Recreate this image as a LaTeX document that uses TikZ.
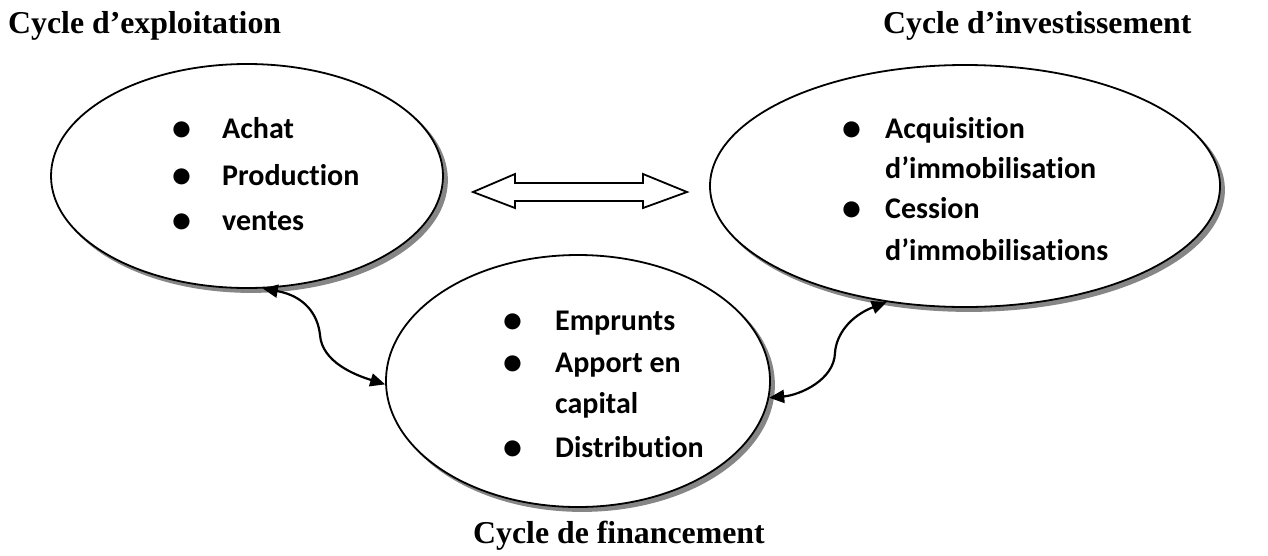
\documentclass[tikz,border=0pt]{standalone}
\usepackage{fontspec}
\setmainfont{Liberation Serif}
\newfontfamily\calib[Ligatures={NoCommon,NoRequired,NoContextual}]{Carlito}
\usetikzlibrary{shapes.geometric,shadows,arrows.meta}
\begin{document}
\begin{tikzpicture}[x=1pt,y=-1pt,
  cyc/.style={ellipse,draw=black,line width=1.8pt,fill=white,inner sep=0pt,
    copy shadow={shadow xshift=4pt,shadow yshift=-4pt,fill=gray!95,draw=gray!95}},
  title/.style={font=\fontsize{31.8}{37}\selectfont\bfseries,anchor=base west,inner sep=0pt},
  item/.style={font=\calib\fontsize{30}{36}\selectfont\bfseries,anchor=base west,inner sep=0pt},
  bul/.style={font=\calib\fontsize{38}{44}\selectfont\bfseries,anchor=base,inner sep=0pt},
  link/.style={line width=2.2pt,{Triangle[length=15pt,width=13pt]}-{Triangle[length=15pt,width=13pt]}}]
\useasboundingbox (0,0) rectangle (1268,555);
% ellipses
\node[cyc,minimum width=392pt,minimum height=224pt] (e1) at (247,176) {};
\node[cyc,minimum width=510pt,minimum height=242pt] (e2) at (965,186) {};
\node[cyc,minimum width=384pt,minimum height=252pt] (e3) at (578,381) {};
% titles
\node[title] (t1) at (8,33) {Cycle d’exploitation};
\node[title] (t2) at (883,33) {Cycle d’investissement};
\node[title] (t3) at (473,543) {Cycle de financement};
% items left
\node[bul] (b11) at (182,140) {•};
\node[item] (i11) at (222,138) {Achat};
\node[bul] (b12) at (182,187) {•};
\node[item] (i12) at (222,185) {Production};
\node[bul] (b13) at (182,232) {•};
\node[item] (i13) at (222,230) {ventes};
% items right
\node[bul] (b21) at (852,140) {•};
\node[item] (i21) at (885,138) {Acquisition};
\node[item] (i22) at (885,178) {d’immobilisation};
\node[bul] (b22) at (852,220) {•};
\node[item] (i23) at (885,218) {Cession};
\node[item] (i24) at (885,260) {d’immobilisations};
% items bottom
\node[bul] (b31) at (513,332) {•};
\node[item] (i31) at (555,330) {Emprunts};
\node[bul] (b32) at (513,374) {•};
\node[item] (i32) at (555,372) {Apport en};
\node[item] (i33) at (555,413) {capital};
\node[bul] (b33) at (513,459) {•};
\node[item] (i34) at (555,457) {Distribution};
% double arrow
\draw[line width=1.8pt,line join=miter] (473,192) -- (515,174) -- (515,183) -- (643,183) -- (643,174)
  -- (687,192) -- (643,208) -- (643,201) -- (515,201) -- (515,208) -- cycle;
% curved links
\draw[link] (e1.-82) .. controls (305,296) and (318,315) .. (320,335)
  .. controls (322,362) and (355,375) .. (e3.181);
\draw[link] (e2.-124) .. controls (850,316) and (836,335) .. (835,353)
  .. controls (834,380) and (800,395) .. (e3.-5);
\end{tikzpicture}
\end{document}
